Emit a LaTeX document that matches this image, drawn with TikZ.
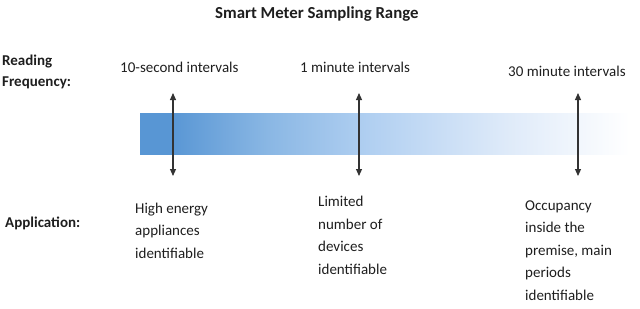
\documentclass[tikz,border=0pt]{standalone}
\usepackage{fontspec}
\setmainfont{Carlito}
\usetikzlibrary{arrows.meta}
\definecolor{barA}{RGB}{88,150,212}
\definecolor{barB}{RGB}{138,183,228}
\definecolor{barC}{RGB}{176,207,241}
\definecolor{barD}{RGB}{222,234,249}
\definecolor{txt}{RGB}{30,30,30}
\pgfdeclarehorizontalshading{barshade}{100bp}{color(0bp)=(barA); color(25bp)=(barA); color(28bp)=(barA); color(38bp)=(barB); color(48bp)=(barC); color(62bp)=(barD); color(74.5bp)=(white); color(100bp)=(white)}
\begin{document}
\begin{tikzpicture}[x=1pt,y=-1pt,
  lbl/.style={anchor=base west,inner sep=0pt,font=\fontsize{15}{22.5}\selectfont,text=txt,align=left},
  head/.style={lbl,font=\bfseries\fontsize{15}{21}\selectfont},
  ttl/.style={anchor=base west,inner sep=0pt,font=\bfseries\fontsize{16.8}{20}\selectfont,text=txt},
  dbl/.style={{Triangle[width=6pt,length=7pt]}-{Triangle[width=6pt,length=7pt]},line width=1.1pt,draw=black!80}]
\useasboundingbox (0,0) rectangle (640,308);
\path[shading=barshade] (140,113) rectangle (634,154);
\node[ttl] (title) at (215,18) {Smart Meter Sampling Range};
\node[head] (freq) at (2,86) {Reading\\Frequency:};
\node[head] (app) at (5,227) {Application:};
\node[lbl] (f1) at (120,72.5) {10-second intervals};
\node[lbl] (f2) at (300,72.5) {1 minute intervals};
\node[lbl] (f3) at (508,76) {30 minute intervals};
\node[lbl] (a1) at (135,258) {High energy\\appliances\\identifiable};
\node[lbl] (a2) at (318,274) {Limited\\number of\\devices\\identifiable};
\node[lbl] (a3) at (525,300) {Occupancy\\inside the\\premise, main\\periods\\identifiable};
\coordinate (t1) at (173,93); \coordinate (b1) at (173,176);
\coordinate (t2) at (359,93); \coordinate (b2) at (359,176);
\coordinate (t3) at (578,93); \coordinate (b3) at (578,176);
\draw[dbl] (t1) -- (b1);
\draw[dbl] (t2) -- (b2);
\draw[dbl] (t3) -- (b3);
\end{tikzpicture}
\end{document}
